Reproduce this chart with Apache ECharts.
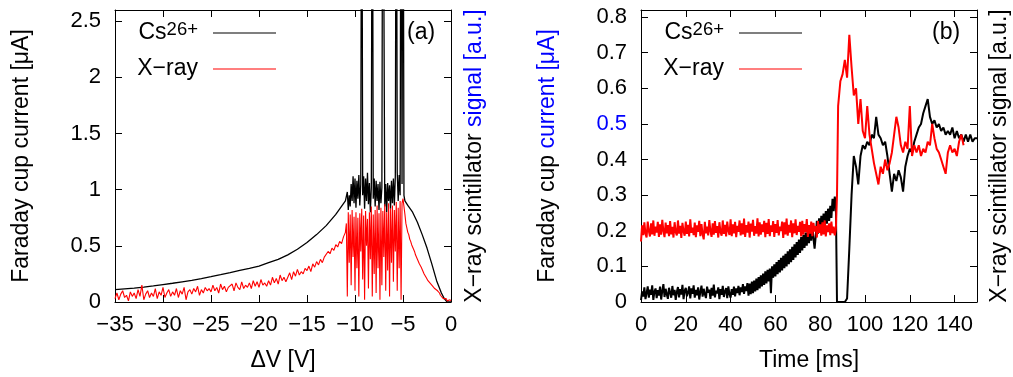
<!DOCTYPE html>
<html>
<head>
<meta charset="utf-8">
<script src="https://cdn.jsdelivr.net/npm/echarts@6/dist/echarts.min.js"></script>
<style>html,body{margin:0;padding:0;background:#fff;}#c{width:1013px;height:377px;}</style>
</head>
<body>
<div id="c"></div>
<script>
// ---------- Panel (a): ΔV scan ----------
// Cs26+ current, smooth rising part (explicit ΔV / value pairs)
const aCsRiseV = [-35,-34,-33,-32,-31,-30,-29,-28,-27,-26,-25,-24,-23,-22,-21,-20,-19,-18,-17,-16,-15,-14,-13,-12,-11.5,-11];
const aCsRiseI = [0.11,0.117,0.124,0.132,0.143,0.155,0.167,0.18,0.193,0.208,0.225,0.243,0.262,0.282,0.3,0.32,0.35,0.38,0.42,0.47,0.53,0.6,0.68,0.78,0.84,0.9];
// Cs26+ current, unstable region (start -10.8 V, step 0.1 V); values > 2.6 are off-scale spikes
const aCsMidStart = -10.8, aCsMidStep = 0.1;
const aCsMid = [0.98,0.82,0.95,0.85,1.05,0.9,1.12,0.88,1.1,0.84,
                1.08,0.92,1.13,0.86,1.05,5,0.95,1.12,0.83,1.1,
                0.9,1.15,0.87,1.06,0.8,1.02,5,0.92,1.1,0.85,
                1.08,0.9,1.05,0.82,1.07,0.88,1.02,5,5,0.85,
                1.05,0.8,1.06,0.9,1.04,0.83,1.08,0.88,1.1,0.86,
                1.12,5,1.15,0.9,1.13,0.95,5,1.05,5,0.95];
// Cs26+ current, falling tail
const aCsTailV = [-4.8,-4.5,-4,-3.5,-3,-2.5,-2,-1.5,-1,-0.7,-0.4,0];
const aCsTailI = [0.9,0.86,0.8,0.71,0.6,0.48,0.34,0.19,0.08,0.03,0.0,0.0];

// X-ray signal, rising part (start -35 V, step 0.2 V)
const aXrRiseStart = -35, aXrRiseStep = 0.2;
const aXrRise = [0.03,0.08,0.02,0.07,0.10,0.04,0.06,0.01,0.09,0.05,
                 0.08,0.03,0.11,0.05,0.15,0.02,0.07,0.10,0.04,0.08,
                 0.05,0.12,0.03,0.09,0.06,0.13,0.04,0.08,0.11,0.05,
                 0.09,0.06,0.12,0.04,0.10,0.07,0.13,0.02,0.09,0.11,
                 0.07,0.12,0.09,0.14,0.06,0.11,0.08,0.13,0.10,0.12,
                 0.09,0.15,0.10,0.13,0.08,0.16,0.11,0.14,0.09,0.13,
                 0.12,0.16,0.10,0.17,0.13,0.11,0.18,0.12,0.15,0.13,
                 0.17,0.12,0.19,0.14,0.18,0.13,0.20,0.15,0.17,0.14,
                 0.19,0.15,0.22,0.17,0.21,0.16,0.24,0.19,0.22,0.18,
                 0.22,0.26,0.20,0.27,0.23,0.29,0.24,0.27,0.25,0.30,
                 0.28,0.32,0.27,0.34,0.31,0.36,0.33,0.38,0.35,0.40,
                 0.41,0.45,0.43,0.48,0.46,0.51,0.49,0.54,0.52,0.58,
                 0.62];
// X-ray signal, unstable region (start -10.9 V, step 0.1 V)
const aXrMidStart = -10.9, aXrMidStep = 0.1;
const aXrMid = [0.70,0.05,0.80,0.35,0.78,0.15,0.82,0.40,0.76,0.10,
                0.80,0.30,0.75,0.05,0.79,0.45,0.83,0.20,0.77,0.02,
                0.81,0.50,0.74,0.12,0.80,0.38,0.85,0.05,0.78,0.25,
                0.82,0.08,0.86,0.30,0.79,0.02,0.84,0.15,0.81,0.40,
                0.87,0.10,0.80,0.28,0.88,0.05,0.83,0.35,0.86,0.18,
                0.82,0.45,0.89,0.10,0.84,0.30,0.90,0.02,0.88,0.92];
// X-ray signal, falling tail (start -4.9 V, step 0.1 V)
const aXrTailStart = -4.9, aXrTailStep = 0.1;
const aXrTail = [0.85,0.78,0.70,0.66,0.62,0.60,0.56,0.54,0.51,0.49,
                 0.47,0.45,0.42,0.41,0.38,0.37,0.34,0.33,0.31,0.29,
                 0.28,0.25,0.24,0.22,0.21,0.19,0.18,0.17,0.16,0.15,
                 0.14,0.15,0.12,0.13,0.11,0.10,0.09,0.08,0.06,0.05,
                 0.05,0.03,0.04,0.02,0.03,0.01,0.02,0.00,0.02,0.01];

// ---------- Panel (b): time trace ----------
// before the pulse: start 0 ms, step 0.5 ms (t = 0 ... 87.5)
const bPreStart = 0, bPreStep = 0.5;
const bCsPre = [0.005,0.03,0.015,0.041,0.008,0.025,0.044,0.012,0.035,0.02,0.047,0.006,0.029,0.038,0.011,0.033,
                0.018,0.043,0.007,0.031,0.05,0.014,0.037,0.022,0.009,0.04,0.027,0.012,0.045,0.019,0.034,0.006,
                0.028,0.042,0.013,0.036,0.021,0.048,0.008,0.032,0.04,0.016,0.026,0.044,0.01,0.038,0.023,0.047,
                0.012,0.034,0.019,0.041,0.007,0.029,0.046,0.015,0.037,0.022,0.011,0.043,0.026,0.035,0.009,0.04,
                0.018,0.049,0.013,0.032,0.024,0.041,0.008,0.036,0.02,0.045,0.014,0.03,0.039,0.011,0.044,0.022,
                0.012,0.036,0.02,0.043,0.016,0.038,0.025,0.045,0.019,0.041,0.028,0.05,0.023,0.044,0.031,0.053,
                0.018,0.052,0.022,0.057,0.025,0.06,0.03,0.066,0.033,0.07,0.038,0.075,0.044,0.08,0.048,0.086,
                0.052,0.09,0.058,0.094,0.025,0.1,0.068,0.106,0.072,0.112,0.078,0.118,0.083,0.124,0.089,0.13,
                0.095,0.135,0.1,0.142,0.106,0.148,0.112,0.155,0.118,0.162,0.125,0.168,0.132,0.175,0.138,0.182,
                0.145,0.188,0.152,0.195,0.158,0.2,0.165,0.207,0.172,0.214,0.178,0.15,0.185,0.228,0.192,0.235,
                0.2,0.242,0.207,0.248,0.214,0.255,0.22,0.262,0.228,0.27,0.236,0.29,0.255,0.296,0.27,0.0];
const bXrPre = [0.17,0.215,0.188,0.224,0.192,0.181,0.226,0.199,0.184,0.221,0.19,0.229,0.186,0.212,0.195,0.225,
                0.183,0.218,0.189,0.231,0.2,0.182,0.223,0.193,0.216,0.185,0.227,0.19,0.211,0.181,0.224,0.196,
                0.187,0.229,0.192,0.214,0.18,0.222,0.198,0.186,0.226,0.191,0.217,0.184,0.232,0.194,0.209,0.188,
                0.223,0.182,0.215,0.197,0.228,0.185,0.219,0.19,0.176,0.225,0.193,0.212,0.187,0.23,0.199,0.183,
                0.221,0.189,0.227,0.194,0.213,0.181,0.224,0.196,0.186,0.229,0.191,0.217,0.184,0.226,0.2,0.188,
                0.232,0.185,0.218,0.193,0.225,0.182,0.214,0.197,0.229,0.187,0.221,0.19,0.234,0.183,0.216,0.195,
                0.226,0.181,0.22,0.198,0.231,0.186,0.213,0.192,0.235,0.184,0.224,0.189,0.218,0.196,0.228,0.182,
                0.222,0.191,0.233,0.185,0.215,0.197,0.227,0.183,0.219,0.194,0.23,0.187,0.212,0.199,0.226,0.18,
                0.224,0.19,0.234,0.186,0.217,0.195,0.229,0.182,0.221,0.193,0.232,0.188,0.214,0.197,0.225,0.184,
                0.228,0.189,0.219,0.196,0.233,0.183,0.216,0.192,0.226,0.185,0.222,0.198,0.213,0.181,0.227,0.194,
                0.218,0.186,0.224,0.19,0.229,0.184,0.215,0.196,0.221,0.188,0.226,0.193,0.212,0.187,0.205,0.3];
// pulse and after: start 88 ms, step 1 ms
const bPostStart = 88, bPostStep = 1;
const bCsPost = [0.0,0.0,
                 0.0,0.0,0.01,0.15,0.3,0.41,0.38,0.33,0.41,0.44,
                 0.43,0.45,0.44,0.47,0.46,0.52,0.47,0.46,0.44,0.45,
                 0.41,0.36,0.31,0.36,0.34,0.37,0.35,0.31,0.38,0.41,
                 0.43,0.42,0.45,0.47,0.49,0.5,0.53,0.55,0.57,0.52,
                 0.5,0.51,0.49,0.5,0.48,0.49,0.47,0.48,0.47,0.49,
                 0.46,0.48,0.46,0.47,0.45,0.47,0.45,0.47,0.45,0.46,0.46];
const bXrPost = [0.55,0.62,
                 0.64,0.68,0.63,0.75,0.66,0.58,0.6,0.5,0.57,0.48,
                 0.46,0.55,0.47,0.43,0.39,0.36,0.33,0.38,0.36,0.4,
                 0.37,0.39,0.42,0.47,0.52,0.49,0.44,0.42,0.45,0.43,
                 0.55,0.41,0.44,0.42,0.44,0.41,0.43,0.42,0.45,0.44,
                 0.5,0.46,0.43,0.42,0.4,0.38,0.36,0.42,0.44,0.42,
                 0.43,0.41,0.45,0.47,0.44];

// Axis tick settings
const aXTicks = {min: -35, max: 0, interval: 5};
const aYTicks = {min: 0, max: 2.6, interval: 0.5};
const bXTicks = {min: 0, max: 150, interval: 20};
const bYTicks = {min: 0, max: 0.82, interval: 0.1};

// ---------- build ----------
function pairs(xs, ys) { return xs.map((x, i) => [x, ys[i]]); }
function seq(start, step, vals) { return vals.map((v, i) => [Math.round((start + i * step) * 1000) / 1000, v]); }

const csA = [].concat(pairs(aCsRiseV, aCsRiseI), seq(aCsMidStart, aCsMidStep, aCsMid), pairs(aCsTailV, aCsTailI));
const xrA = [].concat(seq(aXrRiseStart, aXrRiseStep, aXrRise), seq(aXrMidStart, aXrMidStep, aXrMid), seq(aXrTailStart, aXrTailStep, aXrTail));
const csB = [].concat(seq(bPreStart, bPreStep, bCsPre), seq(bPostStart, bPostStep, bCsPost));
const xrB = [].concat(seq(bPreStart, bPreStep, bXrPre), seq(bPostStart, bPostStep, bXrPost));

const FONT = "'Liberation Sans', Arial, Helvetica, sans-serif";
const BLUE = '#0000ff';
const FS = 22, NFS = 23;
const fmtMinus = v => v < 0 ? '\u2212' + (-v) : String(v);
const fmtNum = v => String(Math.round(v * 100) / 100);

const axLine = {show: true, onZero: false, lineStyle: {color: '#000', width: 1}};
const axTick = {show: true, inside: true, length: 7, lineStyle: {color: '#000', width: 1}};
const lbl = {color: '#000', fontSize: FS, fontFamily: FONT};

function ax(grid, t, pos, extra) {
  return Object.assign({
    type: 'value', gridIndex: grid, position: pos, min: t.min, max: t.max, interval: t.interval,
    axisLine: axLine, axisTick: axTick, splitLine: {show: false},
    axisLabel: {show: false}, nameMoveOverlap: false
  }, extra || {});
}
const nameStyle = (rich) => ({color: '#000', fontSize: NFS, fontFamily: FONT, lineHeight: 26, rich: rich || {}});

const legendRich = {
  n: {fontSize: NFS, fontFamily: FONT, color: '#000', lineHeight: 26},
  s: {fontSize: 18.5, fontFamily: FONT, color: '#000', lineHeight: 18, verticalAlign: 'top'}
};
const legendFmt = name => name === 'Cs' ? '{n|Cs}{s|26+}' : '{n|X\u2212ray}';
function mkLegend(left) {
  return {
    left: left, top: 20, orient: 'vertical', align: 'right', padding: 0,
    icon: 'rect', itemWidth: 63, itemHeight: 1.2, itemGap: 10, selectedMode: false,
    data: ['Cs', 'Xray'], formatter: legendFmt,
    textStyle: {fontSize: NFS, fontFamily: FONT, color: '#000', width: 62, lineHeight: 26, padding: [0, 10, 0, 0], rich: legendRich}
  };
}

const option = {
  animation: false,
  backgroundColor: '#fff',
  textStyle: {fontFamily: FONT},
  title: [
    {text: '(a)', left: 407, top: 20, padding: 0, textStyle: {fontSize: NFS, fontWeight: 'normal', color: '#000', fontFamily: FONT, lineHeight: 26}},
    {text: '(b)', left: 932, top: 20, padding: 0, textStyle: {fontSize: NFS, fontWeight: 'normal', color: '#000', fontFamily: FONT, lineHeight: 26}}
  ],
  legend: [mkLegend(136), mkLegend(662)],
  grid: [
    {left: 115, top: 10, width: 336, height: 292, containLabel: false, outerBoundsMode: 'none'},
    {left: 641, top: 10, width: 336, height: 292, containLabel: false, outerBoundsMode: 'none'}
  ],
  xAxis: [
    ax(0, aXTicks, 'bottom', {axisLabel: Object.assign({show: true, margin: 12, formatter: fmtMinus}, lbl),
      name: '\u0394V [V]', nameLocation: 'middle', nameGap: 46, nameTextStyle: nameStyle()}),
    ax(0, aXTicks, 'top'),
    ax(1, bXTicks, 'bottom', {axisLabel: Object.assign({show: true, margin: 12, showMaxLabel: false, formatter: fmtNum}, lbl),
      name: 'Time [ms]', nameLocation: 'middle', nameGap: 46, nameTextStyle: nameStyle()}),
    ax(1, bXTicks, 'top')
  ],
  yAxis: [
    ax(0, aYTicks, 'left', {axisLabel: Object.assign({show: true, margin: 14, showMaxLabel: false, formatter: fmtNum}, lbl),
      name: 'Faraday cup current [\u03bcA]', nameLocation: 'middle', nameRotate: 90, nameGap: 80, nameTextStyle: nameStyle()}),
    ax(0, aYTicks, 'right', {name: '{k|X\u2212ray scintillator }{b|signal [a.u.]}', nameLocation: 'middle', nameRotate: 90, nameGap: 11,
      nameTextStyle: nameStyle({k: {color: '#000', fontSize: NFS, fontFamily: FONT}, b: {color: BLUE, fontSize: NFS, fontFamily: FONT}})}),
    ax(1, bYTicks, 'left', {axisLabel: Object.assign({show: true, margin: 14, showMaxLabel: false,
        formatter: v => Math.abs(v - 0.5) < 1e-9 ? '{bl|0.5}' : fmtNum(v),
        rich: {bl: {color: BLUE, fontSize: FS, fontFamily: FONT}}}, lbl),
      name: '{k|Faraday cup }{b|current [\u03bcA]}', nameLocation: 'middle', nameRotate: 90, nameGap: 80,
      nameTextStyle: nameStyle({k: {color: '#000', fontSize: NFS, fontFamily: FONT}, b: {color: BLUE, fontSize: NFS, fontFamily: FONT}})}),
    ax(1, bYTicks, 'right', {name: 'X\u2212ray scintillator signal [a.u.]', nameLocation: 'middle', nameRotate: 90, nameGap: 10,
      nameTextStyle: nameStyle()})
  ],
  series: [
    {type: 'line', name: 'Cs', xAxisIndex: 0, yAxisIndex: 0, data: csA, symbol: 'none', clip: true,
      lineStyle: {color: '#000', width: 1.3}, itemStyle: {color: '#000'}},
    {type: 'line', name: 'Xray', xAxisIndex: 0, yAxisIndex: 0, data: xrA, symbol: 'none', clip: true,
      lineStyle: {color: '#ff0000', width: 1.1}, itemStyle: {color: '#ff0000'}},
    {type: 'line', name: 'Cs', xAxisIndex: 2, yAxisIndex: 2, data: csB, symbol: 'none', clip: true,
      lineStyle: {color: '#000', width: 2}, itemStyle: {color: '#000'}},
    {type: 'line', name: 'Xray', xAxisIndex: 2, yAxisIndex: 2, data: xrB, symbol: 'none', clip: true,
      lineStyle: {color: '#ff0000', width: 2}, itemStyle: {color: '#ff0000'}}
  ]
};
const chart = echarts.init(document.getElementById('c'), null, {renderer: 'canvas'});
chart.setOption(option);
</script>
</body>
</html>
